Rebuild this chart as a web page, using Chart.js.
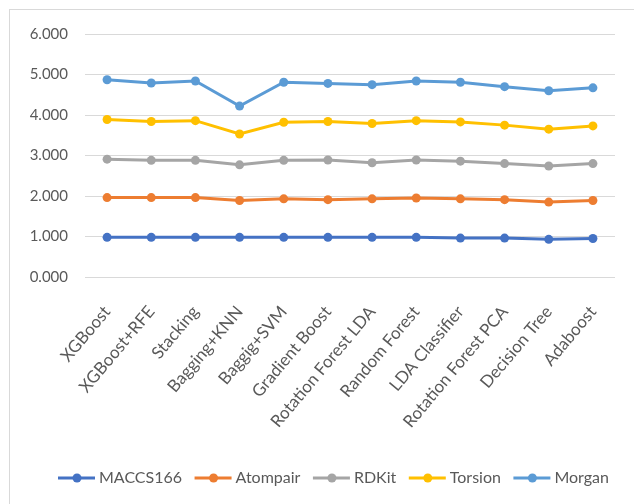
<!DOCTYPE html>
<html>
<head>
<meta charset="utf-8">
<script src="https://cdn.jsdelivr.net/npm/chart.js@4/dist/chart.umd.min.js"></script>
<style>
  html, body { margin: 0; padding: 0; background: #ffffff; overflow: hidden; }
  #wrap { position: relative; width: 634px; height: 504px; }
  #frame { position: absolute; left: 9px; top: 9px; width: 700px; height: 600px;
           border: 1px solid #d9d9d9; box-sizing: border-box; }
  #chart { position: absolute; left: 0; top: 0; }
</style>
</head>
<body>
<div id="wrap">
  <div id="frame"></div>
  <canvas id="chart" width="634" height="504"></canvas>
</div>
<script>
// Classifiers on the category axis
const categories = ["XGBoost", "XGBoost+RFE", "Stacking", "Bagging+KNN", "Baggig+SVM",
  "Gradient Boost", "Rotation Forest LDA", "Random Forest", "LDA Classifier",
  "Rotation Forest PCA", "Decision Tree", "Adaboost"];

// Per-fingerprint scores (stacked on the value axis)
const maccs166 = [0.98, 0.98, 0.98, 0.98, 0.98, 0.98, 0.98, 0.98, 0.96, 0.96, 0.93, 0.95];
const atompair = [0.98, 0.98, 0.98, 0.91, 0.95, 0.93, 0.95, 0.97, 0.97, 0.95, 0.92, 0.94];
const rdkit    = [0.95, 0.92, 0.92, 0.88, 0.95, 0.98, 0.89, 0.94, 0.93, 0.89, 0.89, 0.91];
const torsion  = [0.98, 0.96, 0.98, 0.76, 0.94, 0.95, 0.97, 0.97, 0.97, 0.95, 0.91, 0.93];
const morgan   = [0.98, 0.95, 0.98, 0.69, 0.99, 0.94, 0.96, 0.98, 0.98, 0.95, 0.95, 0.94];

const seriesNames = ["MACCS166", "Atompair", "RDKit", "Torsion", "Morgan"];
const seriesColors = ["#4472C4", "#ED7D31", "#A5A5A5", "#FFC000", "#5B9BD5"];
const seriesValues = [maccs166, atompair, rdkit, torsion, morgan];

// Value-axis tick labels
const yTickLabels = ["0.000", "1.000", "2.000", "3.000", "4.000", "5.000", "6.000"];

const FONT = "Lato, 'Liberation Sans', sans-serif";
const TEXT = "#595959";

const datasets = seriesNames.map((name, i) => ({
  label: name,
  data: seriesValues[i],
  borderColor: seriesColors[i],
  backgroundColor: seriesColors[i],
  borderWidth: 3,
  pointRadius: 4.5,
  pointHoverRadius: 4.5,
  pointBorderWidth: 0,
  tension: 0,
  fill: false
}));

// Legend drawn under the plot: short line with a round marker, then the name
const bottomLegend = {
  id: "bottomLegend",
  afterDraw(chart) {
    const ctx = chart.ctx;
    ctx.save();
    ctx.font = "16px " + FONT;
    ctx.textBaseline = "middle";
    ctx.textAlign = "left";
    let x = 58;
    const y = 478;
    chart.data.datasets.forEach(ds => {
      ctx.strokeStyle = ds.borderColor;
      ctx.lineWidth = 3;
      ctx.beginPath();
      ctx.moveTo(x, y);
      ctx.lineTo(x + 37, y);
      ctx.stroke();
      ctx.fillStyle = ds.borderColor;
      ctx.beginPath();
      ctx.arc(x + 19, y, 4.5, 0, Math.PI * 2);
      ctx.fill();
      ctx.fillStyle = TEXT;
      ctx.fillText(ds.label, x + 41, y);
      x += 41 + ctx.measureText(ds.label).width + 12.5;
    });
    ctx.restore();
  }
};

new Chart(document.getElementById("chart"), {
  type: "line",
  data: { labels: categories, datasets },
  plugins: [bottomLegend],
  options: {
    responsive: false,
    animation: false,
    layout: { padding: { top: 34, right: 11, bottom: 0, left: 0 } },
    plugins: { legend: { display: false }, tooltip: { enabled: false } },
    scales: {
      x: {
        offset: true,
        grid: { display: false, drawTicks: false },
        border: { display: false },
        ticks: {
          color: TEXT,
          font: { family: FONT, size: 17 },
          minRotation: 50,
          maxRotation: 50,
          padding: 25,
          autoSkip: false
        },
        afterFit(scale) { scale.height = 227; }
      },
      y: {
        stacked: true,
        min: 0,
        max: 6,
        grid: { color: "#d9d9d9", lineWidth: 1, drawTicks: false },
        border: { display: false },
        ticks: {
          stepSize: 1,
          color: TEXT,
          font: { family: FONT, size: 15 },
          padding: 17,
          callback: (v) => yTickLabels[Math.round(v)]
        },
        afterFit(scale) { scale.width = 85; }
      }
    }
  }
});
</script>
</body>
</html>
